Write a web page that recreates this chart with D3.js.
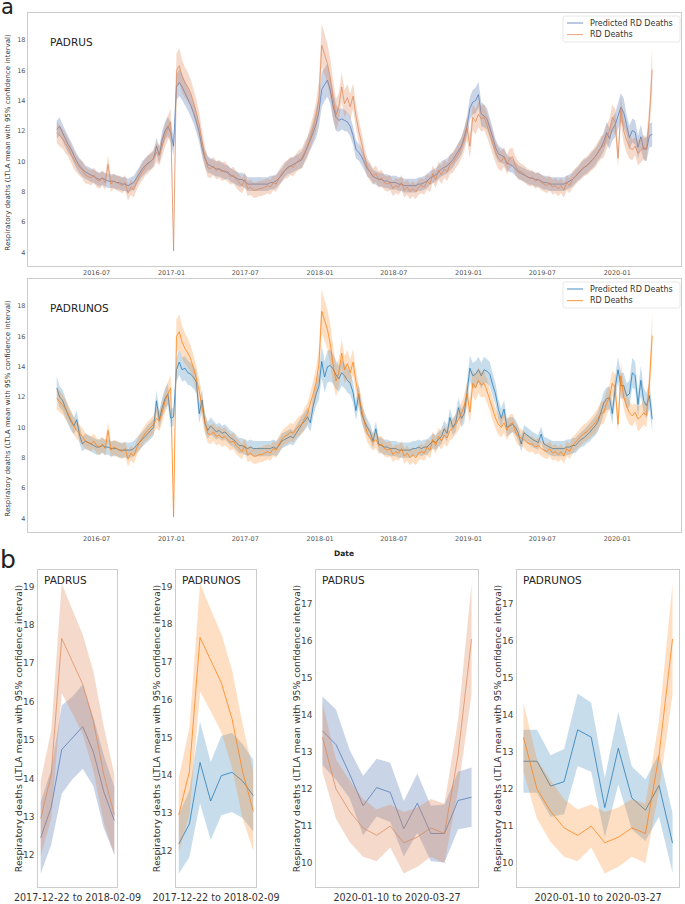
<!DOCTYPE html>
<html>
<head>
<meta charset="utf-8">
<script src="https://cdn.jsdelivr.net/npm/d3@7"></script>
<style>
body { margin: 0; background: #fff; }
svg text { font-family: "DejaVu Sans", sans-serif; }
</style>
</head>
<body>
<svg id="chart" width="685" height="904"></svg>
<script>
// weekly LTLA means (Fridays), first week below
var start_date = '2016-03-25';

// RD Deaths (observed), same series in every panel
var rd_deaths = [
    11.9, 11.7, 11.5, 11.2, 10.9, 10.5, 10.1, 9.8, 9.6, 9.4,
    9.1, 9.0, 8.9, 9.1, 8.8, 8.7, 8.9, 8.6, 9.8, 8.5,
    8.7, 8.6, 8.5, 8.4, 8.6, 7.9, 8.3, 8.1, 8.6, 9.0,
    9.3, 9.6, 9.8, 10.0, 10.2, 10.6, 10.4, 11.0, 11.7, 12.2,
    12.6, 4.1, 16.0, 16.3, 15.6, 15.2, 14.9, 14.5, 13.9, 13.2,
    12.4, 11.3, 10.3, 9.6, 9.5, 9.7, 9.4, 9.5, 9.3, 9.4,
    9.2, 9.0, 9.1, 8.8, 8.6, 8.4, 8.8, 8.2, 8.3, 8.1,
    8.1, 8.2, 8.2, 8.3, 8.4, 8.3, 8.6, 8.5, 8.9, 9.2,
    9.4, 9.5, 9.7, 9.6, 9.9, 10.1, 10.2, 10.6, 10.9, 11.6,
    12.2, 12.95, 14.1, 17.65, 17.05, 16.45, 15.5, 14.1, 13.05, 13.6,
    14.9, 13.8, 14.2, 13.6, 14.3, 13.0, 12.0, 11.2, 10.3, 9.6,
    9.3, 9.0, 9.2, 8.8, 8.9, 8.6, 8.5, 8.6, 8.2, 8.4,
    8.3, 8.6, 8.1, 8.3, 8.0, 8.2, 8.0, 8.3, 8.4, 8.3,
    8.7, 8.5, 9.2, 8.8, 9.4, 9.1, 9.5, 9.3, 9.8, 9.9,
    10.2, 10.5, 10.9, 11.4, 12.2, 11.0, 12.9, 12.6, 13.1, 12.8,
    12.9, 12.4, 11.8, 11.2, 10.6, 10.2, 10.0, 10.3, 9.8, 10.2,
    10.3, 9.7, 9.4, 9.3, 9.2, 9.0, 8.9, 8.9, 8.7, 8.8,
    8.6, 8.5, 8.4, 8.6, 8.3, 8.4, 8.2, 8.4, 8.1, 8.6,
    8.4, 8.8, 9.0, 9.2, 9.4, 9.6, 9.7, 9.9, 10.1, 10.3,
    10.6, 10.9, 11.0, 11.6, 12.0, 12.9, 12.6, 10.2, 13.4, 12.0,
    11.4, 10.95, 10.75, 11.0, 10.55, 10.7, 10.95, 10.8, 12.9, 16.05
];
// half width of the 95% interval
var rd_deaths_ci = [
    0.7, 0.7, 0.65, 0.65, 0.6, 0.6, 0.6, 0.55, 0.55, 0.55,
    0.55, 0.5, 0.5, 0.5, 0.5, 0.5, 0.5, 0.5, 0.6, 0.5,
    0.5, 0.5, 0.5, 0.5, 0.5, 0.5, 0.5, 0.5, 0.5, 0.55,
    0.55, 0.55, 0.6, 0.6, 0.6, 0.65, 0.65, 0.7, 0.75, 0.8,
    0.85, 0.3, 1.1, 1.15, 1.1, 1.0, 0.95, 0.9, 0.85, 0.85,
    0.8, 0.75, 0.7, 0.65, 0.6, 0.6, 0.6, 0.6, 0.6, 0.6,
    0.55, 0.55, 0.55, 0.55, 0.55, 0.5, 0.5, 0.5, 0.5, 0.5,
    0.5, 0.5, 0.5, 0.5, 0.5, 0.5, 0.5, 0.5, 0.55, 0.55,
    0.55, 0.6, 0.6, 0.6, 0.6, 0.65, 0.65, 0.7, 0.7, 0.75,
    0.85, 0.98, 1.15, 1.43, 1.35, 1.3, 1.3, 1.25, 1.05, 0.9,
    0.95, 0.9, 0.9, 0.85, 0.85, 0.8, 0.75, 0.7, 0.65, 0.6,
    0.6, 0.55, 0.55, 0.55, 0.55, 0.5, 0.5, 0.5, 0.5, 0.5,
    0.5, 0.5, 0.5, 0.5, 0.5, 0.5, 0.5, 0.5, 0.5, 0.5,
    0.55, 0.55, 0.55, 0.55, 0.6, 0.6, 0.6, 0.6, 0.65, 0.65,
    0.65, 0.7, 0.7, 0.75, 0.8, 0.8, 0.85, 0.85, 0.85, 0.85,
    0.85, 0.8, 0.75, 0.75, 0.7, 0.7, 0.65, 0.65, 0.65, 0.65,
    0.6, 0.6, 0.6, 0.55, 0.55, 0.55, 0.55, 0.5, 0.5, 0.5,
    0.5, 0.5, 0.5, 0.5, 0.5, 0.5, 0.5, 0.5, 0.5, 0.5,
    0.5, 0.55, 0.55, 0.55, 0.6, 0.6, 0.6, 0.65, 0.65, 0.7,
    0.7, 0.75, 0.75, 0.8, 0.8, 0.85, 0.85, 0.6, 0.93, 0.8,
    0.83, 0.78, 0.7, 0.58, 0.83, 0.8, 0.78, 0.8, 0.95, 1.5
];

// Predicted RD Deaths, PADRUS model
var padrus_pred = [
    12.1, 12.3, 11.9, 11.5, 11.1, 10.8, 10.4, 10.0, 9.7, 9.5,
    9.3, 9.2, 9.1, 9.0, 8.9, 8.8, 8.9, 8.8, 8.7, 8.7,
    8.7, 8.6, 8.6, 8.5, 8.5, 8.4, 8.5, 8.6, 8.9, 9.2,
    9.5, 9.7, 9.9, 10.0, 10.2, 11.0, 10.4, 11.4, 12.0, 12.3,
    11.9, 11.0, 14.9, 15.2, 14.9, 14.5, 14.1, 13.7, 13.2, 12.6,
    11.9, 10.9, 10.2, 9.8, 9.7, 9.6, 9.5, 9.5, 9.4, 9.3,
    9.3, 9.1, 9.0, 8.9, 8.8, 8.8, 8.7, 8.5, 8.5, 8.5,
    8.5, 8.5, 8.5, 8.5, 8.5, 8.6, 8.6, 8.7, 8.9, 9.1,
    9.4, 9.6, 9.7, 9.8, 9.9, 10.0, 10.1, 10.5, 11.0, 11.4,
    11.9, 12.45, 13.25, 14.75, 15.05, 15.35, 14.7, 13.65, 12.9, 12.7,
    12.8, 12.7, 12.6, 12.3, 11.7, 10.8, 10.6, 10.3, 9.9, 9.5,
    9.3, 9.0, 8.9, 8.8, 8.8, 8.7, 8.7, 8.6, 8.6, 8.6,
    8.5, 8.5, 8.4, 8.4, 8.4, 8.4, 8.4, 8.5, 8.5, 8.6,
    8.7, 8.9, 9.0, 9.1, 9.3, 9.5, 9.6, 9.7, 9.9, 10.1,
    10.4, 10.7, 11.0, 11.6, 12.3, 13.5, 13.9, 14.0, 14.4, 13.1,
    13.0, 12.8, 12.2, 11.6, 10.9, 10.5, 10.4, 10.3, 9.9, 9.8,
    9.7, 9.5, 9.3, 9.2, 9.1, 9.0, 8.9, 8.9, 8.8, 8.8,
    8.7, 8.6, 8.6, 8.5, 8.5, 8.5, 8.5, 8.5, 8.5, 8.6,
    8.7, 8.8, 9.0, 9.2, 9.4, 9.6, 9.7, 9.9, 10.1, 10.3,
    10.6, 10.9, 11.3, 11.9, 11.5, 12.1, 12.4, 13.0, 13.57, 13.2,
    12.41, 11.55, 12.04, 11.91, 10.93, 11.62, 10.8, 10.8, 11.69, 11.78
];
var padrus_ci = [
    0.6, 0.6, 0.55, 0.55, 0.55, 0.5, 0.5, 0.5, 0.5, 0.5,
    0.45, 0.45, 0.45, 0.45, 0.45, 0.45, 0.45, 0.45, 0.45, 0.45,
    0.45, 0.45, 0.45, 0.45, 0.45, 0.45, 0.45, 0.45, 0.45, 0.45,
    0.5, 0.5, 0.5, 0.5, 0.5, 0.55, 0.55, 0.6, 0.6, 0.65,
    0.65, 0.65, 0.85, 0.9, 0.85, 0.8, 0.75, 0.75, 0.7, 0.7,
    0.65, 0.6, 0.55, 0.55, 0.5, 0.5, 0.5, 0.5, 0.5, 0.5,
    0.45, 0.45, 0.45, 0.45, 0.45, 0.45, 0.45, 0.45, 0.45, 0.45,
    0.45, 0.45, 0.45, 0.45, 0.45, 0.45, 0.45, 0.45, 0.45, 0.45,
    0.45, 0.45, 0.5, 0.5, 0.5, 0.5, 0.55, 0.55, 0.6, 0.65,
    0.75, 0.93, 0.98, 1.15, 1.08, 1.1, 0.9, 0.95, 0.88, 0.75,
    0.7, 0.7, 0.65, 0.65, 0.6, 0.6, 0.55, 0.55, 0.5, 0.5,
    0.45, 0.45, 0.45, 0.45, 0.45, 0.45, 0.45, 0.45, 0.45, 0.45,
    0.45, 0.45, 0.45, 0.45, 0.45, 0.45, 0.45, 0.45, 0.45, 0.45,
    0.45, 0.45, 0.45, 0.45, 0.45, 0.5, 0.5, 0.5, 0.5, 0.5,
    0.5, 0.55, 0.55, 0.6, 0.65, 0.75, 0.8, 0.85, 0.85, 0.8,
    0.75, 0.7, 0.65, 0.6, 0.55, 0.55, 0.5, 0.5, 0.5, 0.5,
    0.45, 0.45, 0.45, 0.45, 0.45, 0.45, 0.45, 0.45, 0.45, 0.45,
    0.45, 0.45, 0.45, 0.45, 0.45, 0.45, 0.45, 0.45, 0.45, 0.45,
    0.45, 0.45, 0.45, 0.45, 0.5, 0.5, 0.5, 0.5, 0.55, 0.55,
    0.55, 0.6, 0.65, 0.7, 0.7, 0.75, 0.8, 0.85, 0.93, 0.95,
    0.65, 0.8, 0.78, 0.8, 0.75, 0.8, 0.75, 0.78, 0.78, 0.8
];

// Predicted RD Deaths, PADRUNOS model
var padrunos_pred = [
    12.6, 12.0, 11.8, 11.3, 10.8, 10.4, 10.1, 10.5, 9.5, 8.9,
    9.1, 9.0, 8.9, 8.8, 8.7, 8.7, 8.8, 8.7, 8.7, 8.6,
    8.6, 8.6, 8.5, 8.5, 8.5, 8.5, 8.5, 8.6, 8.8, 9.0,
    9.2, 9.4, 9.6, 9.8, 10.0, 11.75, 10.5, 11.3, 11.9, 12.2,
    10.6, 10.7, 13.8, 14.3, 13.8, 13.9, 13.6, 13.5, 13.3, 13.0,
    10.9, 11.8, 10.3, 9.8, 10.1, 9.9, 9.7, 9.8, 9.6, 9.7,
    9.5, 9.3, 9.2, 9.0, 8.8, 8.8, 8.7, 8.6, 8.7, 8.6,
    8.6, 8.6, 8.6, 8.6, 8.6, 8.6, 8.7, 8.6, 8.8, 9.1,
    9.2, 9.3, 9.4, 9.3, 9.6, 9.9, 10.2, 10.4, 10.7, 10.3,
    11.4, 12.18, 12.71, 14.34, 13.32, 13.99, 14.08, 13.85, 13.46, 13.2,
    13.6, 13.4, 13.1, 12.9, 12.3, 11.1, 12.2, 10.9, 10.4, 10.0,
    9.7, 9.1, 9.9, 8.9, 8.8, 8.7, 8.7, 8.6, 8.6, 8.6,
    8.5, 8.5, 8.5, 8.5, 8.5, 8.6, 8.6, 8.7, 8.6, 8.7,
    8.7, 8.9, 9.1, 9.0, 9.2, 9.4, 9.9, 9.6, 10.65, 10.0,
    10.3, 11.3, 10.6, 10.9, 12.3, 13.9, 13.4, 13.5, 13.8, 13.4,
    13.8, 13.7, 13.5, 12.8, 12.2, 11.2, 10.6, 11.2, 10.0, 10.1,
    10.2, 10.0, 9.6, 8.9, 9.65, 9.5, 9.35, 9.2, 9.1, 9.0,
    9.55, 8.9, 8.8, 8.7, 8.6, 8.6, 8.6, 8.6, 8.6, 8.7,
    8.7, 8.8, 8.8, 9.0, 9.2, 9.3, 9.5, 9.65, 9.9, 10.1,
    10.4, 11.0, 11.6, 11.9, 11.95, 10.9, 12.6, 13.8, 12.75, 12.75,
    12.08, 12.2, 13.6, 13.4, 11.5, 13.1, 11.76, 11.43, 12.1, 10.54
];
var padrunos_ci = [
    0.75, 0.7, 0.7, 0.65, 0.6, 0.6, 0.55, 0.6, 0.55, 0.5,
    0.5, 0.5, 0.5, 0.5, 0.5, 0.5, 0.5, 0.5, 0.5, 0.5,
    0.5, 0.5, 0.5, 0.5, 0.5, 0.5, 0.5, 0.5, 0.5, 0.5,
    0.5, 0.5, 0.55, 0.55, 0.55, 0.7, 0.6, 0.65, 0.7, 0.7,
    0.6, 0.6, 0.8, 0.85, 0.8, 0.8, 0.8, 0.75, 0.75, 0.75,
    0.65, 0.7, 0.6, 0.55, 0.55, 0.55, 0.5, 0.5, 0.5, 0.5,
    0.5, 0.5, 0.5, 0.5, 0.5, 0.5, 0.5, 0.5, 0.5, 0.5,
    0.5, 0.5, 0.5, 0.5, 0.5, 0.5, 0.5, 0.5, 0.5, 0.5,
    0.5, 0.5, 0.5, 0.5, 0.5, 0.55, 0.55, 0.6, 0.6, 0.6,
    0.7, 0.78, 0.88, 1.08, 1.03, 1.05, 1.05, 0.98, 0.95, 0.85,
    0.85, 0.8, 0.8, 0.75, 0.7, 0.65, 0.7, 0.6, 0.6, 0.55,
    0.5, 0.5, 0.5, 0.5, 0.5, 0.5, 0.5, 0.5, 0.5, 0.5,
    0.5, 0.5, 0.5, 0.5, 0.5, 0.5, 0.5, 0.5, 0.5, 0.5,
    0.5, 0.5, 0.5, 0.5, 0.5, 0.5, 0.55, 0.55, 0.6, 0.55,
    0.6, 0.65, 0.6, 0.65, 0.7, 0.85, 0.85, 0.85, 0.85, 0.85,
    0.85, 0.8, 0.8, 0.75, 0.7, 0.65, 0.65, 0.6, 0.6, 0.55,
    0.5, 0.5, 0.5, 0.5, 0.5, 0.5, 0.5, 0.5, 0.5, 0.5,
    0.5, 0.5, 0.5, 0.5, 0.5, 0.5, 0.5, 0.5, 0.5, 0.5,
    0.5, 0.5, 0.5, 0.5, 0.5, 0.55, 0.55, 0.6, 0.6, 0.65,
    0.65, 0.7, 0.75, 0.75, 0.75, 0.7, 0.8, 0.85, 0.85, 0.85,
    0.83, 0.88, 0.98, 0.93, 0.8, 0.98, 0.85, 0.83, 0.85, 0.8
];

var model_names = ['PADRUS', 'PADRUNOS'];
var legend_labels = ['Predicted RD Deaths', 'RD Deaths'];
var zoom_windows = [['2017-12-22', '2018-02-09'], ['2020-01-10', '2020-03-27']];
var y_label = 'Respiratory deaths (LTLA mean with 95% confidence interval)';

var parse = d3.timeParse('%Y-%m-%d');
var t0 = parse(start_date);
var dates = rd_deaths.map((d, i) => d3.timeDay.offset(t0, 7 * i));

var models = [
    { name: model_names[0], pred: padrus_pred, ci: padrus_ci,
      blue: '#4c72b0', orange: '#dd8452', band: 0.3, line: 0.7 },
    { name: model_names[1], pred: padrunos_pred, ci: padrunos_ci,
      blue: '#1f77b4', orange: '#ff7f0e', band: 0.25, line: 0.75 }
];

var svg = d3.select('#chart');

// matplotlib style 5% margins
function padded(lo, hi) {
    var p = (hi - lo) * 0.05;
    return [lo - p, hi + p];
}

function extentOf(model, idx) {
    var lo = d3.min(idx, (i) => Math.min(rd_deaths[i] - rd_deaths_ci[i], model.pred[i] - model.ci[i]));
    var hi = d3.max(idx, (i) => Math.max(rd_deaths[i] + rd_deaths_ci[i], model.pred[i] + model.ci[i]));
    return padded(lo, hi);
}

function drawSeries(g, idx, xpos, y_scale, mean, ci, color, model) {
    g.append('path')
        .datum(idx)
        .attr('d', d3.area()
            .x(xpos)
            .y0((i) => y_scale(mean[i] - ci[i]))
            .y1((i) => y_scale(mean[i] + ci[i])))
        .attr('fill', color)
        .attr('fill-opacity', model.band);
    g.append('path')
        .datum(idx)
        .attr('d', d3.line()
            .x(xpos)
            .y((i) => y_scale(mean[i])))
        .attr('fill', 'none')
        .attr('stroke', color)
        .attr('stroke-opacity', model.line)
        .attr('stroke-width', 1);
}

function frame(g, l, r, t, b) {
    g.append('rect')
        .attr('x', l + 0.5).attr('y', t + 0.5)
        .attr('width', r - l - 1).attr('height', b - t - 1)
        .attr('fill', 'none')
        .attr('stroke', '#cccccc')
        .attr('stroke-width', 1);
}

function yLabel(g, x, y, size) {
    g.append('text')
        .attr('transform', 'translate(' + x + ',' + y + ') rotate(-90)')
        .attr('text-anchor', 'middle')
        .attr('font-size', size)
        .attr('fill', '#333')
        .text(y_label);
}

function modelLabel(g, x, y) {
    g.append('text')
        .attr('x', x).attr('y', y)
        .attr('font-family', '"Open Sans", sans-serif')
        .attr('font-size', 10.5)
        .attr('fill', '#222')
        .text(model_names[0] && g.attr('data-name'));
}

//Panel a: full series
var all_idx = d3.range(dates.length);
var a_left = 27, a_right = 682;
var a_tops = [[12, 267], [278, 533]];

var x_time = d3.scaleTime()
    .domain(padded(+dates[0], +dates[dates.length - 1]).map((v) => new Date(v)))
    .range([a_left, a_right]);

models.forEach((m, k) => {
    var top = a_tops[k][0], bottom = a_tops[k][1];
    var g = svg.append('g').attr('data-name', m.name);
    var y_scale = d3.scaleLinear()
        .domain(extentOf(m, all_idx))
        .range([bottom, top]);

    frame(g, a_left, a_right, top, bottom);

    var xpos = (i) => x_time(dates[i]);
    drawSeries(g, all_idx, xpos, y_scale, m.pred, m.ci, m.blue, m);
    drawSeries(g, all_idx, xpos, y_scale, rd_deaths, rd_deaths_ci, m.orange, m);

    // y ticks
    g.selectAll('.ytick')
        .data(y_scale.ticks(10))
        .enter()
        .append('text')
        .attr('x', a_left - 1.5)
        .attr('y', (d) => y_scale(d))
        .attr('dy', '0.35em')
        .attr('text-anchor', 'end')
        .attr('font-size', 6.5)
        .attr('fill', '#555')
        .text((d) => d);

    // x ticks every six months
    g.selectAll('.xtick')
        .data(x_time.ticks(d3.timeMonth.every(6)))
        .enter()
        .append('text')
        .attr('x', (d) => x_time(d))
        .attr('y', bottom + 7.8)
        .attr('text-anchor', 'middle')
        .attr('font-size', 6.5)
        .attr('fill', '#555')
        .text(d3.timeFormat('%Y-%m'));

    yLabel(g, 9.5, (top + bottom) / 2 + 3, 7);

    g.append('text')
        .attr('x', 50).attr('y', top + 34)
        .attr('font-family', '"Open Sans", sans-serif')
        .attr('font-size', 10.5)
        .attr('fill', '#222')
        .text(m.name);

    // legend
    var lg = g.append('g').attr('transform', 'translate(563,' + (top + 4) + ')');
    lg.append('rect')
        .attr('width', 117).attr('height', 26).attr('rx', 2)
        .attr('fill', '#fff').attr('fill-opacity', 0.8)
        .attr('stroke', '#e2e2e2').attr('stroke-width', 0.8);
    [m.blue, m.orange].forEach((c, j) => {
        var yy = 7 + j * 11.6;
        lg.append('line')
            .attr('x1', 4).attr('x2', 20)
            .attr('y1', yy).attr('y2', yy)
            .attr('stroke', c).attr('stroke-opacity', m.line)
            .attr('stroke-width', 1.1);
        lg.append('text')
            .attr('x', 27).attr('y', yy).attr('dy', '0.35em')
            .attr('font-size', 8)
            .attr('fill', '#333')
            .text(legend_labels[j]);
    });
});

svg.append('text')
    .attr('x', 344).attr('y', 556)
    .attr('text-anchor', 'middle')
    .attr('font-size', 7.5)
    .attr('font-weight', 'bold')
    .attr('fill', '#222')
    .text('Date');

//Panel b: zoomed windows
var b_top = 569, b_bottom = 888;
var b_panels = [
    { model: 0, win: 0, left: 37, right: 118 },
    { model: 1, win: 0, left: 175, right: 257 },
    { model: 0, win: 1, left: 315, right: 479 },
    { model: 1, win: 1, left: 516, right: 680 }
];

b_panels.forEach((p) => {
    var m = models[p.model];
    var w0 = parse(zoom_windows[p.win][0]), w1 = parse(zoom_windows[p.win][1]);
    var idx = all_idx.filter((i) => dates[i] >= w0 && dates[i] <= w1);
    var g = svg.append('g');

    var x_scale = d3.scaleLinear()
        .domain(padded(0, idx.length - 1))
        .range([p.left, p.right]);
    var y_scale = d3.scaleLinear()
        .domain(extentOf(m, idx))
        .range([b_bottom, b_top]);

    frame(g, p.left, p.right, b_top, b_bottom);

    var xpos = (i, k) => x_scale(k);
    drawSeries(g, idx, xpos, y_scale, m.pred, m.ci, m.blue, m);
    drawSeries(g, idx, xpos, y_scale, rd_deaths, rd_deaths_ci, m.orange, m);

    g.selectAll('.ytick')
        .data(y_scale.ticks(10))
        .enter()
        .append('text')
        .attr('x', p.left - 2.5)
        .attr('y', (d) => y_scale(d))
        .attr('dy', '0.35em')
        .attr('text-anchor', 'end')
        .attr('font-size', 9)
        .attr('fill', '#444')
        .text((d) => d);

    g.append('text')
        .attr('x', (p.left + p.right) / 2).attr('y', 901)
        .attr('text-anchor', 'middle')
        .attr('font-size', 9.6)
        .attr('fill', '#333')
        .text(zoom_windows[p.win][0] + ' to ' + zoom_windows[p.win][1]);

    yLabel(g, p.left - 15.5, (b_top + b_bottom) / 2, 9.3);

    g.append('text')
        .attr('x', p.left + 7).attr('y', b_top + 15)
        .attr('font-family', '"Open Sans", sans-serif')
        .attr('font-size', 10.5)
        .attr('fill', '#222')
        .text(m.name);
});

// panel letters
svg.append('text')
    .attr('x', 1).attr('y', 13.5)
    .attr('font-family', '"Open Sans", sans-serif')
    .attr('font-size', 21)
    .attr('fill', '#222')
    .text('a');
svg.append('text')
    .attr('x', 0).attr('y', 567.5)
    .attr('font-family', '"Open Sans", sans-serif')
    .attr('font-size', 25)
    .attr('fill', '#222')
    .text('b');
</script>
</body>
</html>
